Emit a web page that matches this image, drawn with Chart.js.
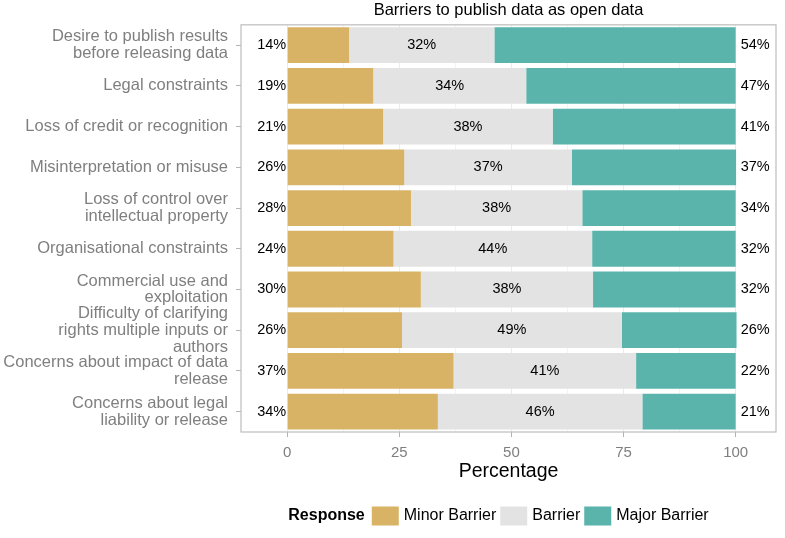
<!DOCTYPE html>
<html lang="en">
<head>
    <meta charset="UTF-8">
    <title>Barriers to publish data as open data</title>
    <script src="https://cdn.jsdelivr.net/npm/chart.js@4.4.1/dist/chart.umd.min.js"></script>
    <style>
        * { margin: 0; padding: 0; box-sizing: border-box; }
        body { background: white; width: 785px; height: 538px; overflow: hidden; }
        .chart-container { position: relative; width: 785px; height: 538px; }
    </style>
</head>
<body>
    <div class="chart-container">
        <canvas id="barrier-chart"></canvas>
    </div>

    <script>
        // Categories (top to bottom) and the three stacked responses, in percent
        const categories = [
            ['Desire to publish results', 'before releasing data'],
            'Legal constraints',
            'Loss of credit or recognition',
            'Misinterpretation or misuse',
            ['Loss of control over', 'intellectual property'],
            'Organisational constraints',
            ['Commercial use and', 'exploitation'],
            ['Difficulty of clarifying', 'rights multiple inputs or', 'authors'],
            ['Concerns about impact of data', 'release'],
            ['Concerns about legal', 'liability or release']
        ];
        const minorBarrier = [13.8, 19.2, 21.4, 26.1, 27.6, 23.7, 29.8, 25.6, 37.1, 33.6];
        const barrier = [32.4, 34.1, 37.8, 37.4, 38.2, 44.3, 38.4, 49.0, 40.7, 45.6];
        const majorBarrier = [53.8, 46.7, 40.8, 36.6, 34.2, 32.0, 31.8, 25.6, 22.2, 20.8];
        const xTicks = [0, 25, 50, 75, 100];

        const colors = {
            minor: '#d8b365',
            barrier: '#e3e3e3',
            major: '#5ab4ac'
        };
        const FONT = "'Liberation Sans', Arial, sans-serif";

        // Labels, panel border, title and legend drawn on top
        const overlayPlugin = {
            id: 'overlay',
            afterDatasetsDraw(chart) {
                const ctx = chart.ctx;
                const area = chart.chartArea;
                const xs = chart.scales.x;
                const ys = chart.scales.y;
                ctx.save();

                // panel border
                ctx.strokeStyle = '#bdbdbd';
                ctx.lineWidth = 1.2;
                ctx.strokeRect(area.left, area.top, area.right - area.left, area.bottom - area.top);

                // value labels
                ctx.fillStyle = '#000';
                ctx.font = '14.5px ' + FONT;
                ctx.textBaseline = 'middle';
                categories.forEach((c, i) => {
                    const y = ys.getPixelForValue(i);
                    ctx.textAlign = 'right';
                    ctx.fillText(Math.round(minorBarrier[i]) + '%', xs.getPixelForValue(0) - 1, y);
                    ctx.textAlign = 'center';
                    ctx.fillText(Math.round(barrier[i]) + '%', xs.getPixelForValue(minorBarrier[i] + barrier[i] / 2), y);
                    ctx.textAlign = 'left';
                    ctx.fillText(Math.round(majorBarrier[i]) + '%', xs.getPixelForValue(100) + 5, y);
                });

                // title
                ctx.textAlign = 'center';
                ctx.font = '16.5px ' + FONT;
                ctx.fillText('Barriers to publish data as open data', (area.left + area.right) / 2, 10.5);

                // legend
                const items = [
                    ['Minor Barrier', colors.minor],
                    ['Barrier', colors.barrier],
                    ['Major Barrier', colors.major]
                ];
                const ly = 516;
                ctx.font = 'bold 16px ' + FONT;
                const headW = ctx.measureText('Response').width;
                ctx.font = '16px ' + FONT;
                let total = headW + 7;
                items.forEach(it => { total += 27 + 5 + ctx.measureText(it[0]).width + 4; });
                let x = 500.5 - total / 2;
                ctx.textAlign = 'left';
                ctx.font = 'bold 16px ' + FONT;
                ctx.fillText('Response', x, ly);
                x += headW + 7;
                ctx.font = '16px ' + FONT;
                items.forEach(it => {
                    ctx.fillStyle = it[1];
                    ctx.fillRect(x, ly - 9.5, 27, 19);
                    x += 27 + 5;
                    ctx.fillStyle = '#000';
                    ctx.fillText(it[0], x, ly);
                    x += ctx.measureText(it[0]).width + 4;
                });
                ctx.restore();
            }
        };

        new Chart(document.getElementById('barrier-chart'), {
            type: 'bar',
            data: {
                labels: categories,
                datasets: [
                    { label: 'Minor Barrier', data: minorBarrier, backgroundColor: colors.minor },
                    { label: 'Barrier', data: barrier, backgroundColor: colors.barrier },
                    { label: 'Major Barrier', data: majorBarrier, backgroundColor: colors.major }
                ]
            },
            options: {
                indexAxis: 'y',
                responsive: true,
                maintainAspectRatio: false,
                animation: false,
                layout: { padding: { top: 21, right: 9, left: 0, bottom: 46 } },
                datasets: {
                    bar: { barPercentage: 0.88, categoryPercentage: 1, borderWidth: 0 }
                },
                plugins: {
                    legend: { display: false },
                    tooltip: { enabled: false }
                },
                scales: {
                    x: {
                        type: 'linear',
                        stacked: true,
                        min: -10.3,
                        max: 109,
                        afterBuildTicks(scale) {
                            const t = [];
                            for (let v = 0; v <= 100; v += 12.5) t.push({ value: v });
                            scale.ticks = t;
                        },
                        afterFit(scale) { scale.height = 60; },
                        border: { display: false },
                        grid: {
                            color: '#ebebeb',
                            lineWidth: c => (c.tick && xTicks.includes(c.tick.value)) ? 1 : 0.6,
                            tickColor: c => (c.tick && xTicks.includes(c.tick.value)) ? '#b3b3b3' : 'rgba(0,0,0,0)',
                            tickLength: 5
                        },
                        ticks: {
                            autoSkip: false,
                            maxRotation: 0,
                            padding: 7,
                            color: '#7f7f7f',
                            font: { family: FONT, size: 15 },
                            callback: v => xTicks.includes(v) ? String(v) : ''
                        },
                        title: {
                            display: true,
                            text: 'Percentage',
                            color: '#000',
                            font: { family: FONT, size: 19.5 },
                            padding: { top: 0, bottom: 9 }
                        }
                    },
                    y: {
                        stacked: true,
                        afterFit(scale) { scale.width = 241; },
                        border: { display: false },
                        grid: {
                            offset: false,
                            drawOnChartArea: false,
                            tickLength: 5,
                            tickColor: '#b3b3b3'
                        },
                        ticks: {
                            autoSkip: false,
                            padding: 8,
                            color: '#7f7f7f',
                            font: { family: FONT, size: 16.5, lineHeight: 1.02 }
                        }
                    }
                }
            },
            plugins: [overlayPlugin]
        });
    </script>
</body>
</html>
